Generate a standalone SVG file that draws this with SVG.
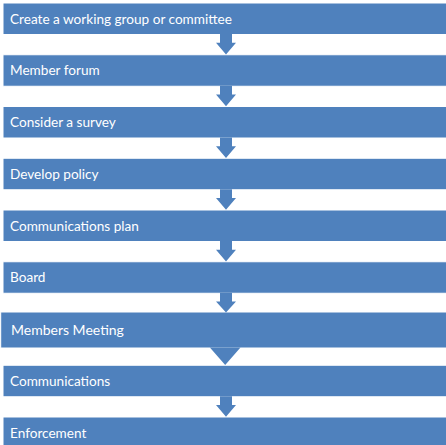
<svg xmlns="http://www.w3.org/2000/svg" width="446" height="445" viewBox="0 0 446 445">
<style>
.box{fill:#4F81BD;stroke:#FFFFFF;stroke-width:1}
.lbl{font-family:Lato,"Liberation Sans",sans-serif;font-size:13.6px;fill:#FFFFFF}
.big{font-size:14px}
.arr{fill:#4F81BD}
</style>
<rect width="446" height="445" fill="#FFFFFF"/>
<g id="n1"><rect class="box" x="3" y="3" width="450" height="31.5"/><text class="lbl" x="10" y="23.5">Create a working group or committee</text></g>
<g id="n2"><rect class="box" x="3" y="54.75" width="450" height="31.5"/><text class="lbl" x="10" y="75.25">Member forum</text></g>
<g id="n3"><rect class="box" x="3" y="106.5" width="450" height="31.5"/><text class="lbl" x="10" y="127">Consider a survey</text></g>
<g id="n4"><rect class="box" x="3" y="158.25" width="450" height="31.5"/><text class="lbl" x="10" y="178.75">Develop policy</text></g>
<g id="n5"><rect class="box" x="3" y="210" width="450" height="31.5"/><text class="lbl" x="10" y="230.5">Communications plan</text></g>
<g id="n6"><rect class="box" x="3" y="261.75" width="450" height="31.5"/><text class="lbl" x="10" y="282.25">Board</text></g>
<g id="n7"><rect class="box" x="0.7" y="312" width="452" height="36"/><text class="lbl big" x="11" y="335">Members Meeting</text></g>
<g id="n8"><rect class="box" x="3" y="365.25" width="450" height="31.5"/><text class="lbl" x="10" y="385.75">Communications</text></g>
<g id="n9"><rect class="box" x="3" y="417" width="450" height="31.5"/><text class="lbl" x="10" y="437.5">Enforcement</text></g>
<g id="connectors">
<path class="arr" d="M220,34 H232 V42.7 H236 L226,54.5 L216,42.7 H220 Z"/>
<path class="arr" d="M220,85.75 H232 V94.45 H236 L226,106.25 L216,94.45 H220 Z"/>
<path class="arr" d="M220,137.5 H232 V146.2 H236 L226,158 L216,146.2 H220 Z"/>
<path class="arr" d="M220,189.25 H232 V197.95 H236 L226,209.75 L216,197.95 H220 Z"/>
<path class="arr" d="M220,241 H232 V249.7 H236 L226,261.5 L216,249.7 H220 Z"/>
<path class="arr" d="M220,292.75 H232 V301.45 H236 L226,312.5 L216,301.45 H220 Z"/>
<path class="arr" d="M218,347.5 H233 V347.5 H240.5 L225.2,365 L209.9,347.5 H218 Z"/>
<path class="arr" d="M220,396.25 H232 V404.95 H236 L226,416.75 L216,404.95 H220 Z"/>
</g>
</svg>
